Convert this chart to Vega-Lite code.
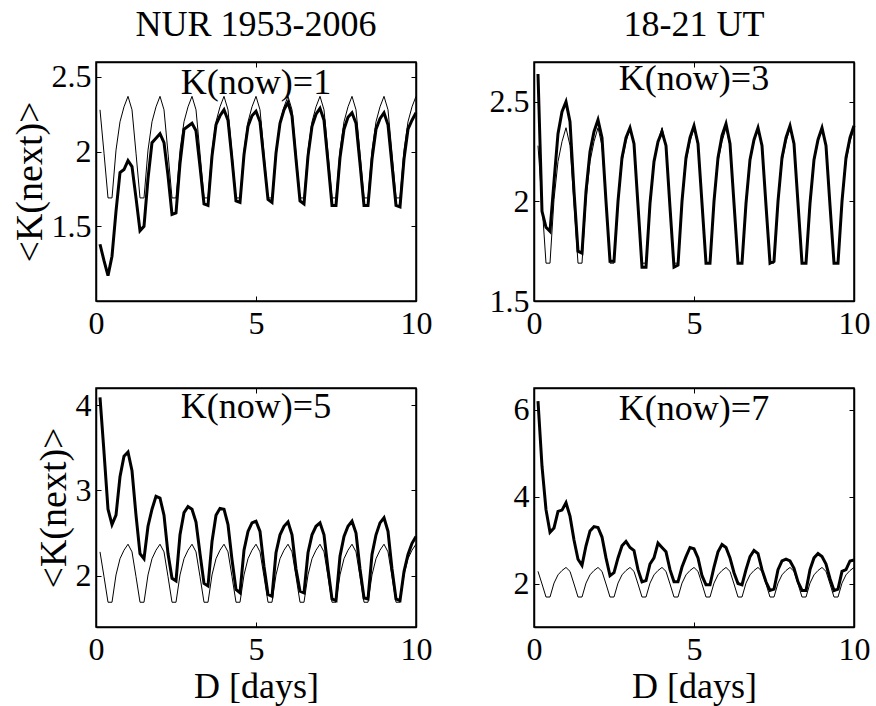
{
  "$schema": "https://vega.github.io/schema/vega-lite/v6.json",
  "background": "white",
  "padding": {"left": 10, "top": 6, "right": 2, "bottom": 2},
  "columns": 2,
  "spacing": {"row": 87, "column": 118},
  "bounds": "flush",
  "config": {
    "font": "Liberation Serif",
    "view": {"stroke": "black", "strokeWidth": 1.5},
    "axis": {
      "labelFont": "Liberation Serif", "labelFontSize": 32, "labelColor": "black",
      "titleFont": "Liberation Serif", "titleFontSize": 36, "titleFontWeight": "normal", "titleColor": "black",
      "tickColor": "black", "tickSize": -5, "tickWidth": 1,
      "domainColor": "black", "domainWidth": 1.5, "grid": false,
      "labelFlush": false, "labelOverlap": false, "labelBound": false
    },
    "axisX": {"labelPadding": 12, "titlePadding": 4},
    "axisY": {"labelPadding": 10, "titlePadding": 2, "titleFontSize": 38, "format": "~g"},
    "title": {"font": "Liberation Serif", "fontSize": 36, "fontWeight": "normal", "color": "black", "anchor": "middle", "offset": 17}
  },
  "datasets": {
    "thin": [
      {"D":0.125,"K":2.28},{"D":0.25,"K":1.99},{"D":0.375,"K":1.69},{"D":0.5,"K":1.69},{"D":0.625,"K":2.01},{"D":0.75,"K":2.2},{"D":0.875,"K":2.3},{"D":1,"K":2.37},
      {"D":1.125,"K":2.28},{"D":1.25,"K":1.99},{"D":1.375,"K":1.69},{"D":1.5,"K":1.69},{"D":1.625,"K":2.01},{"D":1.75,"K":2.2},{"D":1.875,"K":2.3},{"D":2,"K":2.37},
      {"D":2.125,"K":2.28},{"D":2.25,"K":1.99},{"D":2.375,"K":1.69},{"D":2.5,"K":1.69},{"D":2.625,"K":2.01},{"D":2.75,"K":2.2},{"D":2.875,"K":2.3},{"D":3,"K":2.37},
      {"D":3.125,"K":2.28},{"D":3.25,"K":1.99},{"D":3.375,"K":1.69},{"D":3.5,"K":1.69},{"D":3.625,"K":2.01},{"D":3.75,"K":2.2},{"D":3.875,"K":2.3},{"D":4,"K":2.37},
      {"D":4.125,"K":2.28},{"D":4.25,"K":1.99},{"D":4.375,"K":1.69},{"D":4.5,"K":1.69},{"D":4.625,"K":2.01},{"D":4.75,"K":2.2},{"D":4.875,"K":2.3},{"D":5,"K":2.37},
      {"D":5.125,"K":2.28},{"D":5.25,"K":1.99},{"D":5.375,"K":1.69},{"D":5.5,"K":1.69},{"D":5.625,"K":2.01},{"D":5.75,"K":2.2},{"D":5.875,"K":2.3},{"D":6,"K":2.37},
      {"D":6.125,"K":2.28},{"D":6.25,"K":1.99},{"D":6.375,"K":1.69},{"D":6.5,"K":1.69},{"D":6.625,"K":2.01},{"D":6.75,"K":2.2},{"D":6.875,"K":2.3},{"D":7,"K":2.37},
      {"D":7.125,"K":2.28},{"D":7.25,"K":1.99},{"D":7.375,"K":1.69},{"D":7.5,"K":1.69},{"D":7.625,"K":2.01},{"D":7.75,"K":2.2},{"D":7.875,"K":2.3},{"D":8,"K":2.37},
      {"D":8.125,"K":2.28},{"D":8.25,"K":1.99},{"D":8.375,"K":1.69},{"D":8.5,"K":1.69},{"D":8.625,"K":2.01},{"D":8.75,"K":2.2},{"D":8.875,"K":2.3},{"D":9,"K":2.37},
      {"D":9.125,"K":2.28},{"D":9.25,"K":1.99},{"D":9.375,"K":1.69},{"D":9.5,"K":1.69},{"D":9.625,"K":2.01},{"D":9.75,"K":2.2},{"D":9.875,"K":2.3},{"D":10,"K":2.37}
    ],
    "k1": [
      {"D":0.125,"K":1.38},{"D":0.25,"K":1.27},{"D":0.375,"K":1.17},{"D":0.5,"K":1.3},{"D":0.625,"K":1.6},{"D":0.75,"K":1.86},{"D":0.875,"K":1.88},{"D":1,"K":1.94},
      {"D":1.125,"K":1.9},{"D":1.25,"K":1.69},{"D":1.375,"K":1.47},{"D":1.5,"K":1.5},{"D":1.625,"K":1.82},{"D":1.75,"K":2.06},{"D":1.875,"K":2.09},{"D":2,"K":2.12},
      {"D":2.125,"K":2.06},{"D":2.25,"K":1.84},{"D":2.375,"K":1.58},{"D":2.5,"K":1.59},{"D":2.625,"K":1.92},{"D":2.75,"K":2.15},{"D":2.875,"K":2.17},{"D":3,"K":2.19},
      {"D":3.125,"K":2.14},{"D":3.25,"K":1.9},{"D":3.375,"K":1.65},{"D":3.5,"K":1.64},{"D":3.625,"K":1.97},{"D":3.75,"K":2.18},{"D":3.875,"K":2.24},{"D":4,"K":2.28},
      {"D":4.125,"K":2.21},{"D":4.25,"K":1.95},{"D":4.375,"K":1.67},{"D":4.5,"K":1.66},{"D":4.625,"K":1.98},{"D":4.75,"K":2.17},{"D":4.875,"K":2.24},{"D":5,"K":2.27},
      {"D":5.125,"K":2.2},{"D":5.25,"K":1.94},{"D":5.375,"K":1.68},{"D":5.5,"K":1.66},{"D":5.625,"K":1.99},{"D":5.75,"K":2.19},{"D":5.875,"K":2.28},{"D":6,"K":2.33},
      {"D":6.125,"K":2.24},{"D":6.25,"K":1.95},{"D":6.375,"K":1.67},{"D":6.5,"K":1.65},{"D":6.625,"K":1.97},{"D":6.75,"K":2.17},{"D":6.875,"K":2.25},{"D":7,"K":2.29},
      {"D":7.125,"K":2.21},{"D":7.25,"K":1.93},{"D":7.375,"K":1.64},{"D":7.5,"K":1.64},{"D":7.625,"K":1.96},{"D":7.75,"K":2.15},{"D":7.875,"K":2.23},{"D":8,"K":2.26},
      {"D":8.125,"K":2.19},{"D":8.25,"K":1.92},{"D":8.375,"K":1.64},{"D":8.5,"K":1.64},{"D":8.625,"K":1.95},{"D":8.75,"K":2.15},{"D":8.875,"K":2.22},{"D":9,"K":2.26},
      {"D":9.125,"K":2.18},{"D":9.25,"K":1.91},{"D":9.375,"K":1.64},{"D":9.5,"K":1.63},{"D":9.625,"K":1.95},{"D":9.75,"K":2.15},{"D":9.875,"K":2.21},{"D":10,"K":2.26}
    ],
    "k3": [
      {"D":0.125,"K":2.64},{"D":0.25,"K":1.95},{"D":0.375,"K":1.87},{"D":0.5,"K":1.85},{"D":0.625,"K":2.1},{"D":0.75,"K":2.34},{"D":0.875,"K":2.45},{"D":1,"K":2.5},
      {"D":1.125,"K":2.4},{"D":1.25,"K":2.05},{"D":1.375,"K":1.75},{"D":1.5,"K":1.74},{"D":1.625,"K":2.05},{"D":1.75,"K":2.25},{"D":1.875,"K":2.35},{"D":2,"K":2.41},
      {"D":2.125,"K":2.32},{"D":2.25,"K":2.0},{"D":2.375,"K":1.7},{"D":2.5,"K":1.7},{"D":2.625,"K":2.0},{"D":2.75,"K":2.22},{"D":2.875,"K":2.32},{"D":3,"K":2.37},
      {"D":3.125,"K":2.29},{"D":3.25,"K":1.98},{"D":3.375,"K":1.67},{"D":3.5,"K":1.67},{"D":3.625,"K":1.99},{"D":3.75,"K":2.2},{"D":3.875,"K":2.3},{"D":4,"K":2.35},
      {"D":4.125,"K":2.28},{"D":4.25,"K":1.97},{"D":4.375,"K":1.67},{"D":4.5,"K":1.68},{"D":4.625,"K":2.0},{"D":4.75,"K":2.22},{"D":4.875,"K":2.32},{"D":5,"K":2.38},
      {"D":5.125,"K":2.29},{"D":5.25,"K":1.99},{"D":5.375,"K":1.69},{"D":5.5,"K":1.69},{"D":5.625,"K":2.0},{"D":5.75,"K":2.22},{"D":5.875,"K":2.33},{"D":6,"K":2.39},
      {"D":6.125,"K":2.29},{"D":6.25,"K":1.99},{"D":6.375,"K":1.69},{"D":6.5,"K":1.69},{"D":6.625,"K":1.99},{"D":6.75,"K":2.21},{"D":6.875,"K":2.31},{"D":7,"K":2.37},
      {"D":7.125,"K":2.28},{"D":7.25,"K":1.98},{"D":7.375,"K":1.69},{"D":7.5,"K":1.7},{"D":7.625,"K":2.0},{"D":7.75,"K":2.22},{"D":7.875,"K":2.32},{"D":8,"K":2.38},
      {"D":8.125,"K":2.29},{"D":8.25,"K":1.99},{"D":8.375,"K":1.69},{"D":8.5,"K":1.69},{"D":8.625,"K":1.99},{"D":8.75,"K":2.21},{"D":8.875,"K":2.31},{"D":9,"K":2.37},
      {"D":9.125,"K":2.28},{"D":9.25,"K":1.98},{"D":9.375,"K":1.69},{"D":9.5,"K":1.69},{"D":9.625,"K":2.0},{"D":9.75,"K":2.22},{"D":9.875,"K":2.32},{"D":10,"K":2.38}
    ],
    "k5": [
      {"D":0.125,"K":4.09},{"D":0.25,"K":3.45},{"D":0.375,"K":2.78},{"D":0.5,"K":2.6},{"D":0.625,"K":2.71},{"D":0.75,"K":3.16},{"D":0.875,"K":3.4},{"D":1,"K":3.45},
      {"D":1.125,"K":3.23},{"D":1.25,"K":2.71},{"D":1.375,"K":2.26},{"D":1.5,"K":2.2},{"D":1.625,"K":2.58},{"D":1.75,"K":2.78},{"D":1.875,"K":2.93},{"D":2,"K":2.91},
      {"D":2.125,"K":2.71},{"D":2.25,"K":2.26},{"D":2.375,"K":1.97},{"D":2.5,"K":1.94},{"D":2.625,"K":2.48},{"D":2.75,"K":2.74},{"D":2.875,"K":2.81},{"D":3,"K":2.78},
      {"D":3.125,"K":2.63},{"D":3.25,"K":2.26},{"D":3.375,"K":1.91},{"D":3.5,"K":1.88},{"D":3.625,"K":2.4},{"D":3.75,"K":2.71},{"D":3.875,"K":2.79},{"D":4,"K":2.78},
      {"D":4.125,"K":2.6},{"D":4.25,"K":2.19},{"D":4.375,"K":1.84},{"D":4.5,"K":1.8},{"D":4.625,"K":2.3},{"D":4.75,"K":2.52},{"D":4.875,"K":2.62},{"D":5,"K":2.64},
      {"D":5.125,"K":2.52},{"D":5.25,"K":2.11},{"D":5.375,"K":1.78},{"D":5.5,"K":1.76},{"D":5.625,"K":2.27},{"D":5.75,"K":2.48},{"D":5.875,"K":2.58},{"D":6,"K":2.63},
      {"D":6.125,"K":2.48},{"D":6.25,"K":2.08},{"D":6.375,"K":1.82},{"D":6.5,"K":1.8},{"D":6.625,"K":2.27},{"D":6.75,"K":2.48},{"D":6.875,"K":2.58},{"D":7,"K":2.62},
      {"D":7.125,"K":2.48},{"D":7.25,"K":2.08},{"D":7.375,"K":1.73},{"D":7.5,"K":1.71},{"D":7.625,"K":2.23},{"D":7.75,"K":2.46},{"D":7.875,"K":2.58},{"D":8,"K":2.64},
      {"D":8.125,"K":2.5},{"D":8.25,"K":2.08},{"D":8.375,"K":1.74},{"D":8.5,"K":1.73},{"D":8.625,"K":2.25},{"D":8.75,"K":2.48},{"D":8.875,"K":2.62},{"D":9,"K":2.68},
      {"D":9.125,"K":2.52},{"D":9.25,"K":2.08},{"D":9.375,"K":1.73},{"D":9.5,"K":1.71},{"D":9.625,"K":2.05},{"D":9.75,"K":2.25},{"D":9.875,"K":2.38},{"D":10,"K":2.46}
    ],
    "k7": [
      {"D":0.125,"K":6.2},{"D":0.25,"K":4.7},{"D":0.375,"K":3.7},{"D":0.5,"K":3.18},{"D":0.625,"K":3.28},{"D":0.75,"K":3.66},{"D":0.875,"K":3.69},{"D":1,"K":3.86},
      {"D":1.125,"K":3.55},{"D":1.25,"K":3.0},{"D":1.375,"K":2.56},{"D":1.5,"K":2.42},{"D":1.625,"K":2.87},{"D":1.75,"K":3.21},{"D":1.875,"K":3.31},{"D":2,"K":3.29},
      {"D":2.125,"K":3.07},{"D":2.25,"K":2.59},{"D":2.375,"K":2.18},{"D":2.5,"K":2.25},{"D":2.625,"K":2.59},{"D":2.75,"K":2.87},{"D":2.875,"K":2.97},{"D":3,"K":2.83},
      {"D":3.125,"K":2.76},{"D":3.25,"K":2.32},{"D":3.375,"K":2.04},{"D":3.5,"K":2.07},{"D":3.625,"K":2.45},{"D":3.75,"K":2.59},{"D":3.875,"K":2.93},{"D":4,"K":2.83},
      {"D":4.125,"K":2.73},{"D":4.25,"K":2.32},{"D":4.375,"K":2.04},{"D":4.5,"K":2.04},{"D":4.625,"K":2.38},{"D":4.75,"K":2.62},{"D":4.875,"K":2.83},{"D":5,"K":2.8},
      {"D":5.125,"K":2.59},{"D":5.25,"K":2.18},{"D":5.375,"K":1.97},{"D":5.5,"K":1.97},{"D":5.625,"K":2.38},{"D":5.75,"K":2.73},{"D":5.875,"K":2.9},{"D":6,"K":2.83},
      {"D":6.125,"K":2.59},{"D":6.25,"K":2.25},{"D":6.375,"K":2.0},{"D":6.5,"K":1.97},{"D":6.625,"K":2.32},{"D":6.75,"K":2.62},{"D":6.875,"K":2.76},{"D":7,"K":2.69},
      {"D":7.125,"K":2.32},{"D":7.25,"K":2.04},{"D":7.375,"K":1.84},{"D":7.5,"K":1.87},{"D":7.625,"K":2.32},{"D":7.75,"K":2.52},{"D":7.875,"K":2.56},{"D":8,"K":2.52},
      {"D":8.125,"K":2.35},{"D":8.25,"K":2.04},{"D":8.375,"K":1.84},{"D":8.5,"K":1.84},{"D":8.625,"K":2.32},{"D":8.75,"K":2.59},{"D":8.875,"K":2.69},{"D":9,"K":2.62},
      {"D":9.125,"K":2.45},{"D":9.25,"K":2.11},{"D":9.375,"K":1.84},{"D":9.5,"K":1.87},{"D":9.625,"K":2.28},{"D":9.75,"K":2.32},{"D":9.875,"K":2.52},{"D":10,"K":2.54}
    ]
  },
  "concat": [
    {
      "width": 320, "height": 239,
      "title": {"text": "NUR 1953-2006"},
      "layer": [
        {"data": {"name": "thin"}, "mark": {"type": "line", "color": "black", "strokeWidth": 1},
         "encoding": {
           "x": {"field": "D", "type": "quantitative", "scale": {"domain": [0, 10]}, "axis": {"values": [0, 5, 10], "title": null}},
           "y": {"field": "K", "type": "quantitative", "scale": {"domain": [1.178, 2.576], "zero": false}, "axis": {"values": [1.5, 2, 2.5], "title": "<K(next)>"}}}},
        {"data": {"name": "k1"}, "mark": {"type": "line", "color": "black", "strokeWidth": 3},
         "encoding": {
           "x": {"field": "D", "type": "quantitative", "axis": {"orient": "top", "values": [0, 5, 10], "labels": false, "title": null}},
           "y": {"field": "K", "type": "quantitative", "axis": {"orient": "right", "values": [1.5, 2, 2.5], "labels": false, "title": null}}}},
        {"data": {"values": [{"label": "K(now)=1"}]}, "mark": {"type": "text", "baseline": "top", "align": "center", "fontSize": 36, "font": "Liberation Serif", "color": "black"},
         "encoding": {"x": {"datum": 5, "type": "quantitative", "axis": null}, "y": {"datum": 2.576, "type": "quantitative", "axis": null}, "text": {"field": "label"}}}
      ],
      "resolve": {"axis": {"x": "independent", "y": "independent"}}
    },
    {
      "width": 320, "height": 239,
      "title": {"text": "18-21 UT"},
      "layer": [
        {"data": {"name": "thin"}, "mark": {"type": "line", "color": "black", "strokeWidth": 1},
         "encoding": {
           "x": {"field": "D", "type": "quantitative", "scale": {"domain": [0, 10]}, "axis": {"values": [0, 5, 10], "title": null}},
           "y": {"field": "K", "type": "quantitative", "scale": {"domain": [1.5, 2.7], "zero": false}, "axis": {"values": [1.5, 2, 2.5], "title": null}}}},
        {"data": {"name": "k3"}, "mark": {"type": "line", "color": "black", "strokeWidth": 3},
         "encoding": {
           "x": {"field": "D", "type": "quantitative", "axis": {"orient": "top", "values": [0, 5, 10], "labels": false, "title": null}},
           "y": {"field": "K", "type": "quantitative", "axis": {"orient": "right", "values": [1.5, 2, 2.5], "labels": false, "title": null}}}},
        {"data": {"values": [{"label": "K(now)=3"}]}, "mark": {"type": "text", "baseline": "top", "align": "center", "fontSize": 36, "font": "Liberation Serif", "color": "black"},
         "encoding": {"x": {"datum": 5, "type": "quantitative", "axis": null}, "y": {"datum": 2.7, "type": "quantitative", "axis": null}, "text": {"field": "label"}}}
      ],
      "resolve": {"axis": {"x": "independent", "y": "independent"}}
    },
    {
      "width": 320, "height": 239,
      "layer": [
        {"data": {"name": "thin"}, "mark": {"type": "line", "color": "black", "strokeWidth": 1},
         "encoding": {
           "x": {"field": "D", "type": "quantitative", "scale": {"domain": [0, 10]}, "axis": {"values": [0, 5, 10], "title": "D [days]"}},
           "y": {"field": "K", "type": "quantitative", "scale": {"domain": [1.5, 4.18], "zero": false}, "axis": {"values": [2, 3, 4], "title": "<K(next)>"}}}},
        {"data": {"name": "k5"}, "mark": {"type": "line", "color": "black", "strokeWidth": 3},
         "encoding": {
           "x": {"field": "D", "type": "quantitative", "axis": {"orient": "top", "values": [0, 5, 10], "labels": false, "title": null}},
           "y": {"field": "K", "type": "quantitative", "axis": {"orient": "right", "values": [2, 3, 4], "labels": false, "title": null}}}},
        {"data": {"values": [{"label": "K(now)=5"}]}, "mark": {"type": "text", "baseline": "top", "align": "center", "fontSize": 36, "font": "Liberation Serif", "color": "black"},
         "encoding": {"x": {"datum": 5, "type": "quantitative", "axis": null}, "y": {"datum": 4.18, "type": "quantitative", "axis": null}, "text": {"field": "label"}}}
      ],
      "resolve": {"axis": {"x": "independent", "y": "independent"}}
    },
    {
      "width": 320, "height": 239,
      "layer": [
        {"data": {"name": "thin"}, "mark": {"type": "line", "color": "black", "strokeWidth": 1},
         "encoding": {
           "x": {"field": "D", "type": "quantitative", "scale": {"domain": [0, 10]}, "axis": {"values": [0, 5, 10], "title": "D [days]"}},
           "y": {"field": "K", "type": "quantitative", "scale": {"domain": [1.48, 6.4], "zero": false}, "axis": {"values": [2, 4, 6], "title": null}}}},
        {"data": {"name": "k7"}, "mark": {"type": "line", "color": "black", "strokeWidth": 3},
         "encoding": {
           "x": {"field": "D", "type": "quantitative", "axis": {"orient": "top", "values": [0, 5, 10], "labels": false, "title": null}},
           "y": {"field": "K", "type": "quantitative", "axis": {"orient": "right", "values": [2, 4, 6], "labels": false, "title": null}}}},
        {"data": {"values": [{"label": "K(now)=7"}]}, "mark": {"type": "text", "baseline": "top", "align": "center", "fontSize": 36, "font": "Liberation Serif", "color": "black"},
         "encoding": {"x": {"datum": 5, "type": "quantitative", "axis": null}, "y": {"datum": 6.4, "type": "quantitative", "axis": null}, "text": {"field": "label"}}}
      ],
      "resolve": {"axis": {"x": "independent", "y": "independent"}}
    }
  ]
}
